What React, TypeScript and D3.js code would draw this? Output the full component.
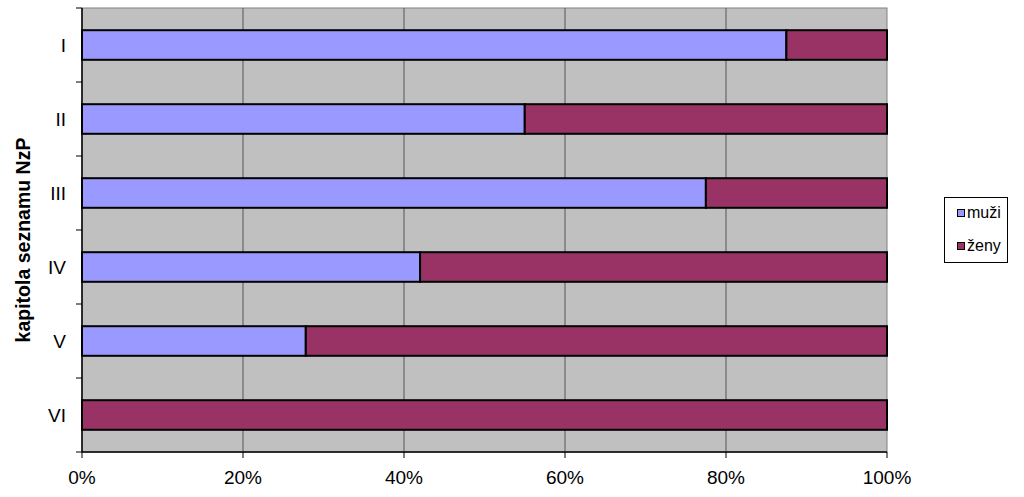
import React from "react";
import * as d3 from "d3";

const categories = ["I", "II", "III", "IV", "V", "VI"];
const muzi = [0.875, 0.55, 0.775, 0.42, 0.278, 0];
const zeny = [0.125, 0.45, 0.225, 0.58, 0.722, 1];
const xTicks = [0, 0.2, 0.4, 0.6, 0.8, 1];
const seriesNames = ["muži", "ženy"];
const seriesColors = ["#9999ff", "#993366"];

export default function App() {
  const W = 1024, H = 497;
  const left = 82, right = 887, top = 8, bottom = 452;
  const x = d3.scaleLinear().domain([0, 1]).range([left, right]);
  const y = d3.scaleBand().domain(categories).range([top, bottom]).paddingInner(0.6).paddingOuter(0.3);
  const yb = d3.scaleBand().domain(categories).range([top, bottom]);
  const font = "'Liberation Sans', Arial, sans-serif";
  const stacked = categories.map((c, i) => [
    { s: 0, x0: 0, x1: muzi[i] },
    { s: 1, x0: muzi[i], x1: muzi[i] + zeny[i] },
  ]);
  return (
    <svg width={W} height={H} style={{ position: "absolute", left: 0, top: 0 }}>
      <rect x={0} y={0} width={W} height={H} fill="#fff" />
      <rect x={left} y={top} width={right - left} height={bottom - top} fill="#c0c0c0" stroke="#808080" strokeWidth={1} />
      {xTicks.slice(1, -1).map((t) => (
        <line key={t} x1={x(t)} x2={x(t)} y1={top} y2={bottom} stroke="#555" strokeWidth={1} />
      ))}
      {categories.map((c, i) =>
        stacked[i].filter((d) => d.x1 - d.x0 > 0).map((d) => (
          <rect key={c + d.s} x={x(d.x0)} y={y(c)!} width={x(d.x1) - x(d.x0)} height={y.bandwidth()}
            fill={seriesColors[d.s]} stroke="#000" strokeWidth={2} />
        ))
      )}
      {/* axes */}
      <line x1={left} x2={left} y1={top} y2={bottom} stroke="#000" strokeWidth={1.5} />
      <line x1={left} x2={right} y1={bottom} y2={bottom} stroke="#000" strokeWidth={1.5} />
      {categories.map((c) => (
        <line key={"yt" + c} x1={left - 6} x2={left} y1={yb(c)!} y2={yb(c)!} stroke="#000" />
      ))}
      <line x1={left - 6} x2={left} y1={bottom} y2={bottom} stroke="#000" />
      {categories.map((c) => (
        <text key={"yl" + c} x={66} y={yb(c)! + yb.bandwidth() / 2} dy="0.35em" textAnchor="end"
          fontFamily={font} fontSize={19}>{c}</text>
      ))}
      {xTicks.map((t) => (
        <g key={"xt" + t}>
          <line x1={x(t)} x2={x(t)} y1={bottom} y2={bottom + 6} stroke="#000" />
          <text x={x(t)} y={484} textAnchor="middle" fontFamily={font} fontSize={19}>{d3.format(".0%")(t)}</text>
        </g>
      ))}
      <text transform={`translate(30, 240) rotate(-90)`} textAnchor="middle"
        fontFamily={font} fontSize={19.5} fontWeight="bold">kapitola seznamu NzP</text>
      {/* legend */}
      <rect x={944.5} y={197.5} width={63} height={65} fill="#fff" stroke="#000" strokeWidth={1} />
      {seriesNames.map((n, i) => (
        <g key={n}>
          <rect x={957.5} y={209.5 + i * 33} width={7} height={7} fill={seriesColors[i]} stroke="#000" strokeWidth={1} />
          <text x={967} y={218 + i * 33} fontFamily={font} fontSize={16}>{n}</text>
        </g>
      ))}
    </svg>
  );
}
